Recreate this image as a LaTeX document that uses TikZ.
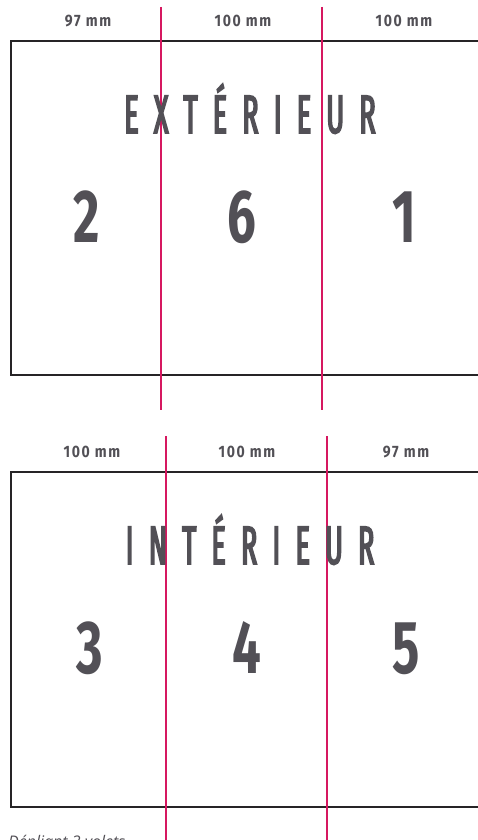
\documentclass[tikz,border=0pt]{standalone}
\usepackage{fontspec}
\newfontfamily\titlefont[FakeStretch=0.5,FakeBold=3,LetterSpace=28]{Fira Sans}
\newfontfamily\numfont[FakeStretch=0.68]{Fira Sans Bold}
\newfontfamily\mmfont[FakeStretch=0.85,LetterSpace=10]{Fira Sans Bold}
\newfontfamily\notefont{Open Sans}
\definecolor{inkgray}{RGB}{82,80,86}
\definecolor{foldred}{RGB}{214,24,96}
\definecolor{boxblack}{RGB}{38,36,38}
\tikzset{
  panel/.style={draw=boxblack, line width=2pt},
  fold/.style={draw=foldred, line width=1.6pt},
  title/.style={text=inkgray, inner sep=0pt, font=\titlefont\fontsize{54}{54}\selectfont, anchor=base},
  bignum/.style={text=inkgray, inner sep=0pt, font=\numfont\fontsize{75}{75}\selectfont, anchor=base},
  mm/.style={text=inkgray, inner sep=0pt, font=\mmfont\fontsize{16.5}{16.5}\selectfont, anchor=base},
  note/.style={text=inkgray, inner sep=0pt, font=\notefont\itshape\fontsize{16}{16}\selectfont, anchor=base west}
}
\begin{document}
\begin{tikzpicture}[x=1pt,y=-1pt]
\useasboundingbox (0,0) rectangle (477,840);
\fill[white] (0,0) rectangle (477,840);
% top panel
\draw[panel] (490,41) -- (11,41) -- (11,375) -- (490,375);
\coordinate (t1a) at (161,7); \coordinate (t1b) at (161,410);
\coordinate (t2a) at (322,7); \coordinate (t2b) at (322,410);
\draw[fold] (t1a) -- (t1b);
\draw[fold] (t2a) -- (t2b);
\node[mm] (m1) at (88,27) {97 mm};
\node[mm] (m2) at (243,27) {100 mm};
\node[mm] (m3) at (404,27) {100 mm};
\node[title] (ext) at (250,133) {EXTÉRIEUR};
\node[bignum] (n2) at (87,242) {2};
\node[bignum] (n6) at (242,242) {6};
\node[bignum] (n1) at (404,242) {1};
% bottom panel
\draw[panel] (490,472) -- (11,472) -- (11,807) -- (490,807);
\coordinate (b1a) at (166,436); \coordinate (b1b) at (166,850);
\coordinate (b2a) at (327,436); \coordinate (b2b) at (327,850);
\draw[fold] (b1a) -- (b1b);
\draw[fold] (b2a) -- (b2b);
\node[mm] (m4) at (92,457) {100 mm};
\node[mm] (m5) at (247,457) {100 mm};
\node[mm] (m6) at (406,457) {97 mm};
\node[title] (int) at (250,564) {INTÉRIEUR};
\node[bignum] (n3) at (90,673) {3};
\node[bignum] (n4) at (247,673) {4};
\node[bignum] (n5) at (406,673) {5};
\node[note] (note) at (8,847) {Dépliant 3 volets};
\end{tikzpicture}
\end{document}
